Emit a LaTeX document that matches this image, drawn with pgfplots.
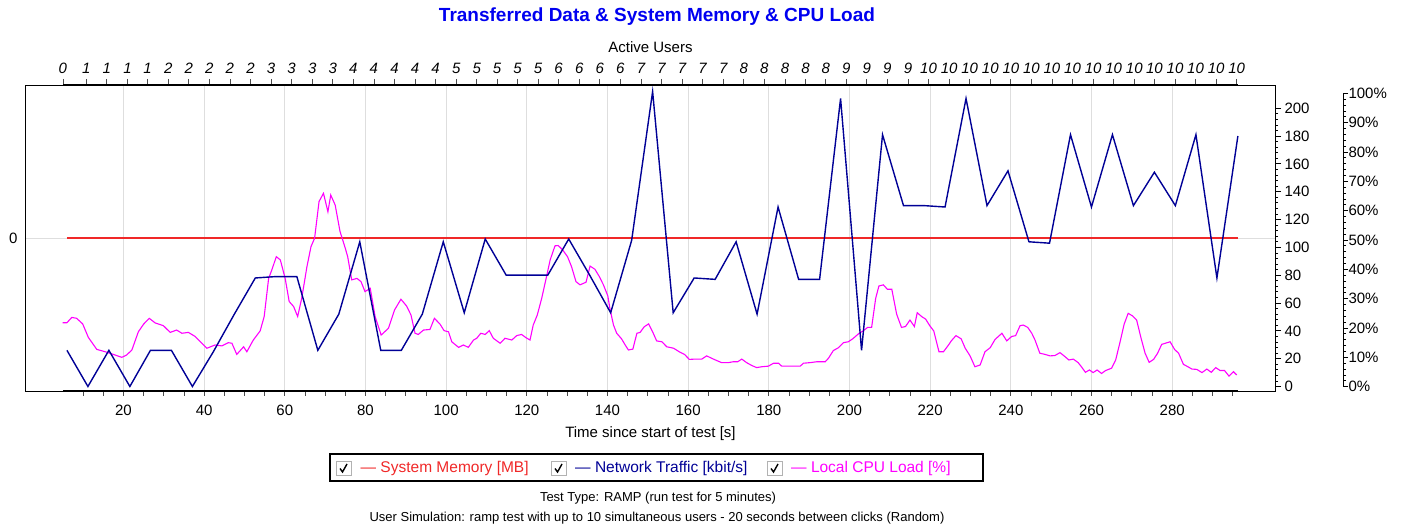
\documentclass[border=0pt]{standalone}
\usepackage{pgfplots}
\pgfplotsset{compat=1.18}
\usepackage{fontspec}
\setmainfont{Liberation Sans}
\newcommand{\fs}[1]{\fontsize{#1}{#1}\selectfont}
\definecolor{titleblue}{RGB}{0,0,240}
\definecolor{netblue}{RGB}{0,0,150}
\definecolor{cpumag}{RGB}{255,0,255}
\definecolor{memred}{RGB}{240,40,40}
\definecolor{gridgray}{RGB}{222,222,222}
\begin{document}
\begin{tikzpicture}
\path[use as bounding box] (-25pt,-136pt) rectangle (1383pt,391pt);
% frame, grid, memory
\begin{axis}[
  at={(0pt,0pt)}, anchor=south west, scale only axis,
  width=1250pt, height=306pt,
  xmin=-4.4, xmax=305.5, ymin=-1, ymax=1,
  axis line style={line width=0.9pt},
  xtick={20,40,...,280}, xticklabels={},
  ytick={0}, yticklabels={0},
  major tick length=0pt,
  grid=major, grid style={color=gridgray, line width=0.9pt},
  yticklabel style={font=\fs{15}, xshift=-4pt},
]
\addplot[memred, line width=1.8pt] coordinates {(6.0,0) (296.3,0)};
\end{axis}
% CPU data
\begin{axis}[
  at={(0pt,0pt)}, anchor=south west, scale only axis,
  width=1250pt, height=306pt,
  xmin=-4.4, xmax=305.5, ymin=-1.47, ymax=102.8,
  hide axis,
]
\addplot[cpumag, line width=1.1pt] coordinates {
(4.9,21.8)(6.0,21.8)(7.2,23.6)(8.4,23.3)(9.9,21.4)(11.3,16.8)(13.4,12.7)(15.5,11.9)(17.5,11.0)(19.6,10.0)(20.8,10.8)(22.1,12.5)(23.7,18.7)(25.0,21.3)(26.4,23.3)(27.9,21.7)(29.9,20.8)(31.6,18.5)(33.2,19.3)(34.5,18.2)(36.1,18.5)(37.8,17.1)(39.0,15.4)(40.7,13.1)(42.7,14.2)(44.4,13.9)(46.0,15.0)(46.9,14.8)(48.1,11.0)(49.8,13.6)(50.6,11.9)(52.2,15.9)(53.9,19.0)(54.9,23.9)(56.0,36.9)(56.8,39.8)(57.9,44.3)(58.9,43.2)(60.1,36.9)(61.1,29.0)(62.2,27.3)(63.2,23.9)(64.2,30.1)(65.5,40.9)(66.5,47.7)(67.4,50.6)(68.5,63.1)(69.6,65.9)(70.7,59.6)(71.4,65.3)(72.5,61.9)(73.7,52.9)(75.0,47.2)(75.6,44.3)(76.6,36.4)(77.9,36.9)(78.9,35.8)(79.9,32.4)(81.2,33.5)(82.4,23.9)(83.9,17.6)(85.7,19.9)(87.2,26.1)(88.8,29.8)(90.2,27.5)(91.3,24.4)(92.3,18.2)(93.1,17.8)(94.4,19.3)(96.0,19.5)(97.1,23.3)
(98.5,21.3)(99.5,19.1)(100.6,18.7)(101.4,15.3)(103.1,13.4)(104.3,14.2)(105.5,13.4)(106.8,15.9)(107.6,16.5)(108.6,18.2)(109.7,17.8)(110.7,19.1)(111.7,16.5)(113.4,14.8)(114.6,16.5)(116.3,15.9)(117.5,17.4)(118.7,17.8)(119.8,16.7)(120.8,15.9)(121.6,21.0)(122.6,24.4)(123.7,30.1)(124.8,36.9)(125.8,43.2)(127.0,48.0)(127.8,48.1)(128.9,46.6)(130.1,44.3)(131.1,40.9)(132.2,35.8)(133.2,34.7)(134.7,35.6)(135.7,41.1)(136.9,40.0)(138.0,37.5)(139.0,34.7)(140.1,30.9)(140.6,26.7)(141.5,21.0)(142.3,18.2)(143.5,16.3)(144.4,14.2)(145.2,12.5)(146.3,12.8)(147.3,18.2)(148.1,18.5)(149.1,20.4)(150.2,21.4)(151.2,18.7)(152.2,15.6)(153.5,15.3)(154.7,13.6)(156.4,13.1)(157.8,11.9)(159.1,11.0)(160.3,9.3)(161.7,9.4)(163.4,9.4)(164.6,10.5)(165.8,9.7)(167.1,8.9)(168.3,8.2)(170.0,8.2)(171.2,8.5)(172.3,8.5)(173.3,9.4)(174.5,8.2)(175.8,7.2)(177.0,6.5)(178.3,6.8)(179.9,7.0)(181.2,8.0)(182.4,8.0)(183.2,7.0)(185.3,7.0)(187.8,7.0)(188.6,8.0)(190.3,8.2)(191.9,8.5)(194.0,8.5)(194.8,9.7)(196.0,12.3)(197.3,13.3)(198.5,15.0)(199.7,15.3)(200.8,16.3)
(202.4,18.2)(203.5,19.1)(204.5,20.2)(205.5,20.2)(206.5,30.1)(207.3,34.3)(208.4,34.7)(209.4,33.2)(210.5,33.2)(211.7,24.7)(212.9,20.2)(213.9,20.5)(215.0,22.7)(216.1,20.5)(216.8,25.2)(217.9,23.9)(218.9,23.0)(219.9,20.8)(220.9,19.0)(222.2,11.9)(223.3,11.9)(224.4,13.9)(225.3,15.7)(226.4,17.4)(227.7,16.3)(228.7,13.1)(229.9,10.5)(231.1,6.8)(232.4,7.4)(233.6,11.9)(234.9,13.3)(236.1,16.1)(237.8,18.2)(239.0,15.6)(240.2,17.1)(241.2,17.4)(242.3,20.8)(243.1,21.0)(244.2,20.2)(245.2,18.2)(246.0,15.9)(247.2,11.4)(248.5,11.0)(249.7,10.5)(250.9,10.6)(252.2,11.6)(253.2,10.5)(254.4,9.1)(255.5,9.4)(256.7,8.2)(257.5,6.8)(258.5,4.9)(259.5,5.7)(260.4,4.8)(261.4,5.7)(262.5,4.5)(263.5,5.5)(265.0,6.3)(266.0,9.1)(267.1,15.3)(268.1,21.3)(269.1,25.0)(270.2,24.1)(271.2,22.7)(272.3,16.5)(273.3,11.4)(274.3,8.3)(275.4,9.3)(276.4,11.4)(277.4,14.4)(278.3,14.8)(279.5,15.3)(280.6,12.7)(281.6,11.4)(282.8,7.6)(283.9,6.8)(284.9,6.0)(286.1,5.9)(287.4,4.8)(288.6,6.0)(289.7,4.9)(290.8,6.5)(291.9,5.5)(293.0,5.5)(294.1,3.6)(295.2,5.1)(296.0,4.0)
};
\end{axis}
% network traffic
\begin{axis}[
  at={(0pt,0pt)}, anchor=south west, scale only axis,
  width=1250pt, height=306pt,
  xmin=-4.4, xmax=305.5, ymin=-3.24, ymax=216.7,
  hide x axis, axis y line=right,
  axis line style={-, line width=0.9pt},
  ytick={0,20,...,200}, yticklabels={0,20,40,60,80,100,120,140,160,180,200},
  minor y tick num=4, tick align=outside,
  major tick length=6pt, minor tick length=3pt,
  every tick/.style={black, line width=0.8pt},
  yticklabel style={font=\fs{15}},
]
\addplot[netblue, line width=1.4pt] coordinates {
(6.0,26)(11.2,0)(16.4,26)(21.6,0)(26.7,26)(31.9,26)(37.1,0)(42.3,25)(47.5,52)(52.7,78)(57.8,79)(63.0,79)(68.2,26)(73.4,52)(78.6,104)(83.8,26)(88.9,26)(94.1,52)(99.3,104)(104.5,53)(109.7,106)(114.9,80)(120.0,80)(125.2,80)(130.4,106)(135.6,80)(140.8,53)(146.0,105)(151.2,212)(156.3,53)(161.5,78)(166.7,77)(171.9,104)(177.1,52)(182.3,129)(187.4,77)(192.6,77)(197.8,207)(203.0,26)(208.2,181)(213.4,130)(218.5,130)(223.7,129)(228.9,207)(234.1,130)(239.3,155)(244.5,104)(249.6,103)(254.8,181)(260.0,129)(265.2,181)(270.4,130)(275.6,154)(280.8,130)(285.9,181)(291.1,78)(296.3,180)
};
\end{axis}
% CPU scale
\begin{axis}[
  at={(68pt,4.3pt)}, anchor=south west, scale only axis,
  width=1250pt, height=293.4pt,
  xmin=0, xmax=1, ymin=0, ymax=100,
  hide x axis, axis y line=right,
  axis line style={-, line width=0.9pt},
  ytick={0,10,...,100}, yticklabels={0\%,10\%,20\%,30\%,40\%,50\%,60\%,70\%,80\%,90\%,100\%},
  minor y tick num=4, tick align=outside,
  major tick length=5pt, minor tick length=3pt,
  every tick/.style={black, line width=0.8pt},
  yticklabel style={font=\fs{15}, xshift=-3pt},
]
\end{axis}
% top axis: active users
\begin{axis}[
  at={(37.92pt,0pt)}, anchor=south west, scale only axis,
  width=1175.0pt, height=306pt,
  xmin=5, xmax=296.3, ymin=0, ymax=1,
  hide y axis, axis x line=top,
  axis line style={-, line width=1.6pt},
  xtick={5.0,10.8,15.9,21.0,26.0,31.1,36.2,41.3,46.4,51.5,56.6,61.7,66.8,71.9,77.0,82.1,87.2,92.3,97.4,102.5,107.6,112.6,117.7,122.8,127.9,133.0,138.1,143.2,148.3,153.4,158.5,163.6,168.7,173.8,178.9,184.0,189.1,194.1,199.2,204.3,209.4,214.5,219.6,224.7,229.8,234.9,240.0,245.1,250.2,255.3,260.4,265.5,270.6,275.6,280.7,285.8,290.9,296.0},
  xticklabels={0,1,1,1,1,2,2,2,2,2,3,3,3,3,4,4,4,4,4,5,5,5,5,5,6,6,6,6,7,7,7,7,7,8,8,8,8,8,9,9,9,9,10,10,10,10,10,10,10,10,10,10,10,10,10,10,10,10},
  tick align=outside, major tick length=6pt,
  every tick/.style={black!70, line width=0.8pt},
  xticklabel style={font=\fs{15}\itshape, yshift=2pt},
  xlabel={Active Users}, xlabel style={font=\fs{15}, yshift=3pt},
]
\end{axis}
% bottom axis: time
\begin{axis}[
  at={(37.92pt,0pt)}, anchor=south west, scale only axis,
  width=1175.0pt, height=306pt,
  xmin=5, xmax=296.3, ymin=0, ymax=1,
  hide y axis, axis x line=bottom,
  axis line style={-, line width=1.6pt},
  xtick={20,40,...,280}, xticklabels={20,40,60,80,100,120,140,160,180,200,220,240,260,280},
  minor xtick={10,15,...,295},
  tick align=outside, major tick length=5pt, minor tick length=5pt,
  every tick/.style={black!70, line width=0.8pt},
  xticklabel style={font=\fs{15}, yshift=-5pt},
  xlabel={Time since start of test [s]}, xlabel style={font=\fs{15}, yshift=-5pt},
]
\end{axis}
% title
\node[font=\fs{19}\bfseries, text=titleblue] at (632pt,374pt) {Transferred Data \& System Memory \& CPU Load};
% legend
\draw[line width=1.5pt] (305pt,-63pt) rectangle (958pt,-90pt);
\foreach \cx [evaluate=\cx as \ax using \cx+4] in {311,526,742} {
  \draw[gray!60, line width=1pt, fill=white] (\cx pt,-84.5pt) rectangle ++(15pt,14pt);
  \draw[black, line width=1.4pt] (\ax pt,-77.5pt) -- ++(2.5pt,-3.5pt) -- ++(4.5pt,8pt);
}
\node[anchor=west, font=\fs{15.5}, text=memred, inner sep=0pt] at (335.5pt,-77.5pt) {\textemdash\ System Memory [MB]};
\node[anchor=west, font=\fs{15.5}, text=netblue, inner sep=0pt] at (550pt,-77.5pt) {\textemdash\ Network Traffic [kbit/s]};
\node[anchor=west, font=\fs{15.5}, text=cpumag, inner sep=0pt] at (766pt,-77.5pt) {\textemdash\ Local CPU Load [\%]};
\node[font=\fs{13}] at (633pt,-107pt) {Test Type: RAMP (run test for 5 minutes)};
\node[font=\fs{13}] at (632pt,-127pt) {User Simulation: ramp test with up to 10 simultaneous users - 20 seconds between clicks (Random)};
\end{tikzpicture}
\end{document}
